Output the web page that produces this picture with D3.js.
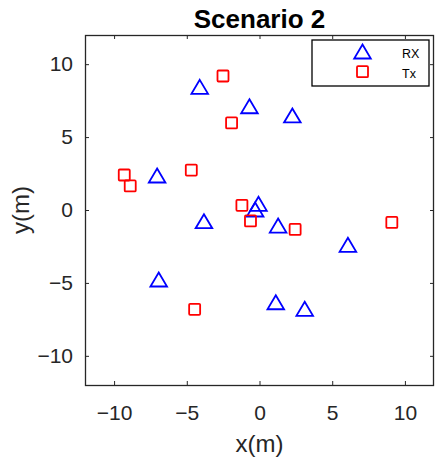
<!DOCTYPE html>
<html>
<head>
<meta charset="utf-8">
<script src="https://cdn.jsdelivr.net/npm/d3@7"></script>
<style>
  body { margin: 0; background: #fff; }
  text { font-family: "Liberation Sans", Arial, sans-serif; }
</style>
</head>
<body>
<div id="chart"></div>
<script>
// receivers (triangles)
var rxX = [-4.11, -0.69, 2.26, -7.04, -0.07, -0.30, -3.82, 1.28, 6.08, -6.93, 1.12, 3.11];
var rxY = [8.41, 7.08, 6.45, 2.33, 0.39, 0.0, -0.80, -1.10, -2.42, -4.80, -6.36, -6.81];
// transmitters (squares)
var txX = [-2.51, -1.92, -9.30, -8.89, -4.69, -1.21, -0.62, 2.45, 9.10, -4.46];
var txY = [9.19, 5.97, 2.40, 1.65, 2.74, 0.32, -0.75, -1.33, -0.85, -6.81];
var ticks = [-10, -5, 0, 5, 10];
var legendLabels = ["RX", "Tx"];

var width = 435, height = 462;
var margin = { top: 35, right: 1, bottom: 77, left: 85 };

var x = d3.scaleLinear().domain([-12, 12]).range([margin.left, width - margin.right]);
var y = d3.scaleLinear().domain([-12, 12]).range([height - margin.bottom, margin.top]);

var svg = d3.select("#chart").append("svg")
  .attr("width", width)
  .attr("height", height);

var axisColor = "#262626";

// ticks inside on all four sides
svg.append("g")
  .attr("transform", `translate(0,${y(-12)})`)
  .call(d3.axisBottom(x).tickValues(ticks).tickSizeInner(-4).tickSizeOuter(0).tickPadding(20))
  .call(g => g.select(".domain").remove())
  .call(g => g.selectAll("line").attr("stroke", axisColor))
  .call(g => g.selectAll("text").attr("font-size", 21).attr("fill", axisColor));

svg.append("g")
  .attr("transform", `translate(0,${y(12)})`)
  .call(d3.axisTop(x).tickValues(ticks).tickSizeInner(-4).tickSizeOuter(0).tickFormat(""))
  .call(g => g.select(".domain").remove())
  .call(g => g.selectAll("line").attr("stroke", axisColor));

svg.append("g")
  .attr("transform", `translate(${x(-12)},0)`)
  .call(d3.axisLeft(y).tickValues(ticks).tickSizeInner(-4).tickSizeOuter(0).tickPadding(12))
  .call(g => g.select(".domain").remove())
  .call(g => g.selectAll("line").attr("stroke", axisColor))
  .call(g => g.selectAll("text").attr("font-size", 21).attr("fill", axisColor));

svg.append("g")
  .attr("transform", `translate(${x(12)},0)`)
  .call(d3.axisRight(y).tickValues(ticks).tickSizeInner(-4).tickSizeOuter(0).tickFormat(""))
  .call(g => g.select(".domain").remove())
  .call(g => g.selectAll("line").attr("stroke", axisColor));

// box
svg.append("rect")
  .attr("x", x(-12) + 0.5)
  .attr("y", y(12) + 0.5)
  .attr("width", x(12) - x(-12) - 1)
  .attr("height", y(-12) - y(12))
  .attr("fill", "none")
  .attr("stroke", axisColor)
  .attr("stroke-width", 1.3);

// markers
var triPath = "M0,-7.5L8.3,6.5L-8.3,6.5Z";
var rx = rxX.map((v, i) => ({ x: v, y: rxY[i] }));
var tx = txX.map((v, i) => ({ x: v, y: txY[i] }));

svg.append("g").selectAll("path")
  .data(rx)
  .join("path")
  .attr("d", triPath)
  .attr("transform", d => `translate(${x(d.x)},${y(d.y)})`)
  .attr("fill", "none")
  .attr("stroke", "#0000ff")
  .attr("stroke-width", 1.8);

svg.append("g").selectAll("rect")
  .data(tx)
  .join("rect")
  .attr("x", d => x(d.x) - 5.5)
  .attr("y", d => y(d.y) - 5.5)
  .attr("width", 11)
  .attr("height", 11)
  .attr("rx", 1)
  .attr("fill", "none")
  .attr("stroke", "#ff0000")
  .attr("stroke-width", 1.8);

// title and labels
svg.append("text")
  .attr("x", x(0))
  .attr("y", 28)
  .attr("text-anchor", "middle")
  .attr("font-size", 26)
  .attr("font-weight", "bold")
  .attr("fill", "#000")
  .text("Scenario 2");

svg.append("text")
  .attr("x", x(0))
  .attr("y", 452)
  .attr("text-anchor", "middle")
  .attr("font-size", 24)
  .attr("fill", axisColor)
  .text("x(m)");

svg.append("text")
  .attr("transform", `translate(29,${y(0)}) rotate(-90)`)
  .attr("text-anchor", "middle")
  .attr("font-size", 24)
  .attr("fill", axisColor)
  .text("y(m)");

// legend
var legend = svg.append("g").attr("transform", "translate(312,40)");
legend.append("rect")
  .attr("width", 117)
  .attr("height", 46)
  .attr("fill", "#fff")
  .attr("stroke", "#000")
  .attr("stroke-width", 1.3);
legend.append("path")
  .attr("d", triPath)
  .attr("transform", "translate(50.5,12)")
  .attr("fill", "none")
  .attr("stroke", "#0000ff")
  .attr("stroke-width", 1.8);
legend.append("rect")
  .attr("x", 45).attr("y", 26.2).attr("width", 11).attr("height", 11).attr("rx", 1)
  .attr("fill", "none")
  .attr("stroke", "#ff0000")
  .attr("stroke-width", 1.8);
legend.selectAll("text.lab")
  .data(legendLabels)
  .join("text")
  .attr("class", "lab")
  .attr("x", 90)
  .attr("y", (d, i) => 18.3 + i * 19.4)
  .attr("font-size", 12.5)
  .attr("fill", "#000")
  .text(d => d);
</script>
</body>
</html>
